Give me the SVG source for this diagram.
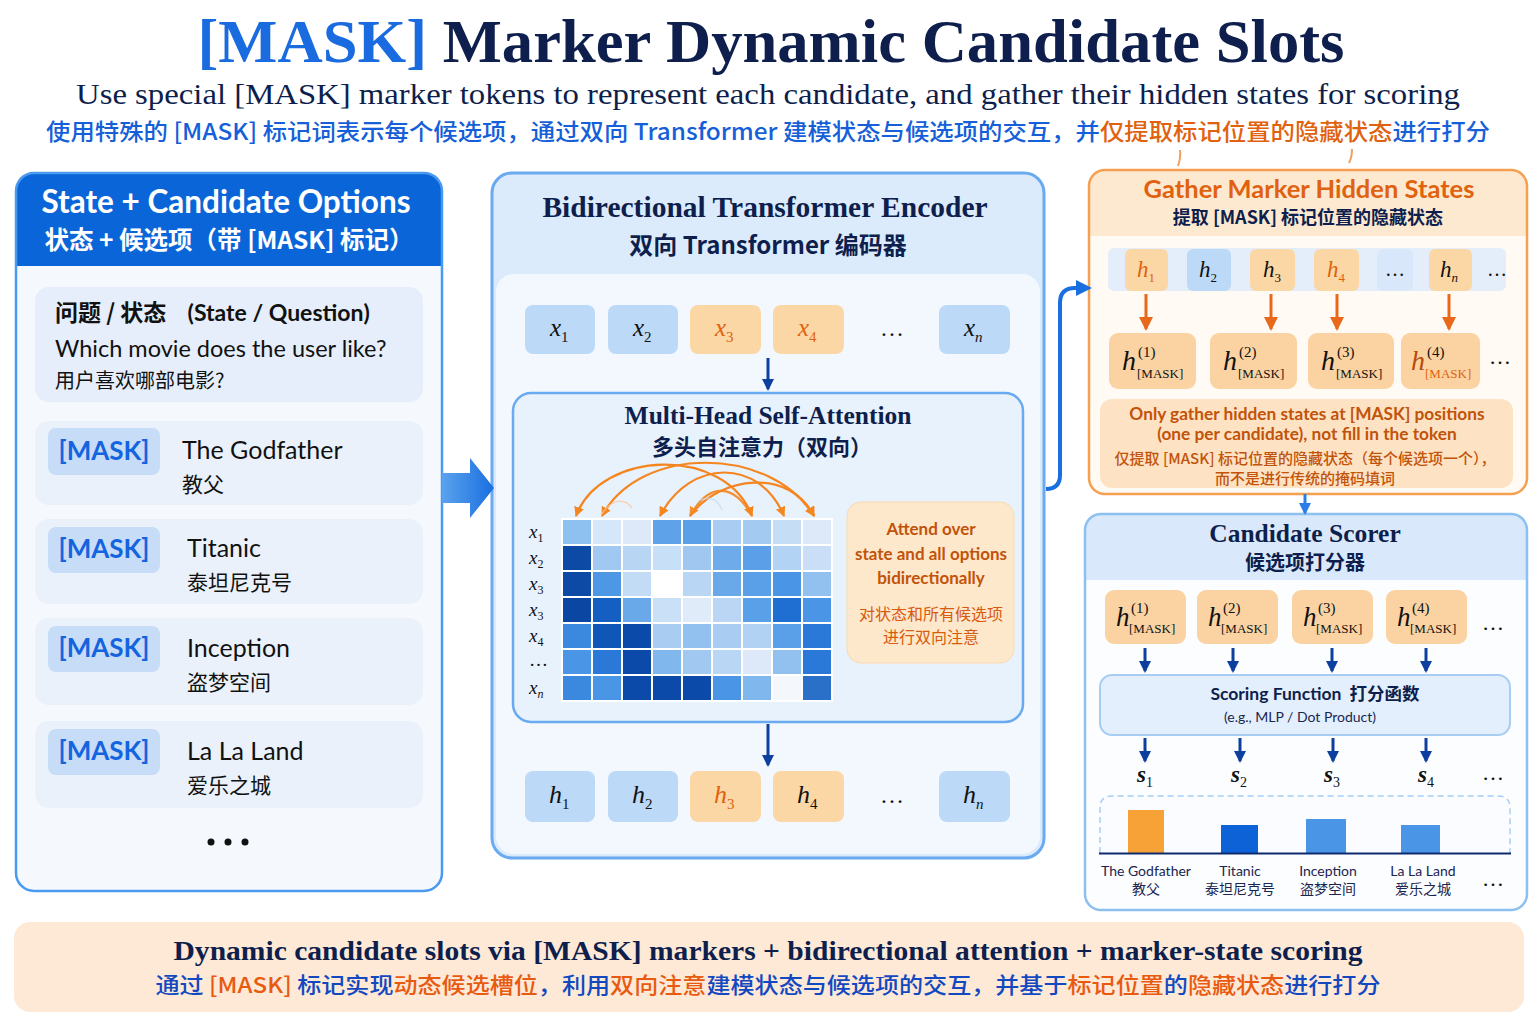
<svg xmlns="http://www.w3.org/2000/svg" width="1536" height="1024" viewBox="0 0 1536 1024">
<defs>
<style>
.serif{font-family:"Liberation Serif","Noto Sans CJK SC",serif}
.sans{font-family:Lato,"Noto Sans","Noto Sans CJK SC",sans-serif}
.cjk{font-family:"Noto Sans CJK SC",sans-serif}
.navy{fill:#0e1f4d}
.blue{fill:#1560d8}
.org{fill:#e0620e}
.brown{fill:#c2530a}
.tokB{fill:#bcd9f7}
.tokO{fill:#fcd7a6}
.mask{fill:#fbd3a2}
.math{font-family:"Liberation Serif",serif;font-style:italic}
.c{text-anchor:middle}
.darrow{stroke:#0d3f9e;stroke-width:3;fill:none}
.oarrow{stroke:#e8691a;stroke-width:3;fill:none}
.arc{stroke:#f5861f;stroke-width:2.2;fill:none}
</style>
<marker id="ah" markerWidth="14" markerHeight="14" refX="10" refY="7" orient="auto" markerUnits="userSpaceOnUse"><path d="M0,1 L12,7 L0,13 Z" fill="#0d3f9e"/></marker>
<marker id="aho" markerWidth="16" markerHeight="16" refX="12" refY="8" orient="auto" markerUnits="userSpaceOnUse"><path d="M0,1 L14,8 L0,15 Z" fill="#e8691a"/></marker>
<marker id="aharc" markerWidth="12" markerHeight="12" refX="9" refY="6" orient="auto-start-reverse" markerUnits="userSpaceOnUse"><path d="M0,1 L10,6 L0,11 Z" fill="#f5861f"/></marker>
<marker id="ahb" markerWidth="18" markerHeight="18" refX="12" refY="9" orient="auto" markerUnits="userSpaceOnUse"><path d="M0,1 L16,9 L0,17 Z" fill="#1a6fe0"/></marker>
<marker id="ahs" markerWidth="14" markerHeight="14" refX="10" refY="7" orient="auto" markerUnits="userSpaceOnUse"><path d="M0,1 L12,7 L0,13 Z" fill="#2a7ee6"/></marker>
<linearGradient id="bigArrow" x1="0" y1="0" x2="1" y2="0"><stop offset="0" stop-color="#5aa2ee"/><stop offset="1" stop-color="#1a6fe0"/></linearGradient>
</defs>
<rect width="1536" height="1024" fill="#ffffff"/>

<!-- Title -->
<g id="title">
<text x="771" y="62" class="serif c" font-size="62" font-weight="bold" textLength="1147" lengthAdjust="spacingAndGlyphs"><tspan fill="#1a6be0">[MASK]</tspan><tspan class="navy"> Marker Dynamic Candidate Slots</tspan></text>
<text x="768" y="104" class="serif c navy" font-size="30" textLength="1384" lengthAdjust="spacingAndGlyphs">Use special [MASK] marker tokens to represent each candidate, and gather their hidden states for scoring</text>
<text x="768" y="140" class="cjk c" font-size="23" font-weight="500" textLength="1444" lengthAdjust="spacingAndGlyphs"><tspan class="blue">使用特殊的 [MASK] 标记词表示每个候选项，通过双向 Transformer 建模状态与候选项的交互，并</tspan><tspan class="org">仅提取标记位置的隐藏状态</tspan><tspan class="blue">进行打分</tspan></text>
<path d="M1178,166 Q1181,158 1180,150 M1349,163 Q1352,157 1352,149" stroke="#f0a060" stroke-width="2" fill="none"/>
</g>

<!-- Left panel -->
<g id="left-panel">
<rect x="16" y="173" width="426" height="718" rx="18" fill="#f5f9fe"/>
<path d="M16,266 V191 Q16,173 34,173 H424 Q442,173 442,191 V266 Z" fill="#0a66d8"/>
<rect x="16" y="173" width="426" height="718" rx="18" fill="none" stroke="#4a9af0" stroke-width="2.5"/>
<text x="226" y="213" class="sans c" font-size="31.5" font-weight="bold" fill="#ffffff">State + Candidate Options</text>
<text x="229" y="249" class="cjk c" font-size="24.5" font-weight="bold" fill="#ffffff">状态 + 候选项（带 [MASK] 标记）</text>
</g>
<g id="state-card">
<rect x="35" y="287" width="388" height="115" rx="14" fill="#e5eefa"/>
<text x="55" y="321" class="cjk" font-size="23" font-weight="bold" fill="#111">问题 / 状态 <tspan class="sans" dx="16">(State / Question)</tspan></text>
<text x="55" y="357" class="sans" font-size="23.5" fill="#111">Which movie does the user like?</text>
<text x="55" y="388" class="cjk" font-size="20" fill="#111">用户喜欢哪部电影?</text>
</g>
<g id="cand-1">
<rect x="35" y="421" width="388" height="84" rx="14" fill="#eaf1fb"/>
<rect x="48" y="428" width="112" height="47" rx="8" fill="#c7dcf7"/>
<text x="104" y="460" class="sans c" font-size="26" font-weight="bold" fill="#1464e0">[MASK]</text>
<text x="182" y="459" class="sans" font-size="25" fill="#111">The Godfather</text>
<text x="182" y="492" class="cjk" font-size="21" fill="#111">教父</text>
</g>
<g id="cand-2">
<rect x="35" y="519" width="388" height="85" rx="14" fill="#eaf1fb"/>
<rect x="48" y="527" width="112" height="46" rx="8" fill="#c7dcf7"/>
<text x="104" y="558" class="sans c" font-size="26" font-weight="bold" fill="#1464e0">[MASK]</text>
<text x="187" y="557" class="sans" font-size="25" fill="#111">Titanic</text>
<text x="187" y="590" class="cjk" font-size="21" fill="#111">泰坦尼克号</text>
</g>
<g id="cand-3">
<rect x="35" y="618" width="388" height="87" rx="14" fill="#eaf1fb"/>
<rect x="48" y="626" width="112" height="46" rx="8" fill="#c7dcf7"/>
<text x="104" y="657" class="sans c" font-size="26" font-weight="bold" fill="#1464e0">[MASK]</text>
<text x="187" y="657" class="sans" font-size="25" fill="#111">Inception</text>
<text x="187" y="690" class="cjk" font-size="21" fill="#111">盗梦空间</text>
</g>
<g id="cand-4">
<rect x="35" y="721" width="388" height="87" rx="14" fill="#eaf1fb"/>
<rect x="48" y="729" width="112" height="46" rx="8" fill="#c7dcf7"/>
<text x="104" y="760" class="sans c" font-size="26" font-weight="bold" fill="#1464e0">[MASK]</text>
<text x="187" y="760" class="sans" font-size="25" fill="#111">La La Land</text>
<text x="187" y="793" class="cjk" font-size="21" fill="#111">爱乐之城</text>
</g>
<g id="left-more" fill="#111"><circle cx="211" cy="842" r="3.5"/><circle cx="228" cy="842" r="3.5"/><circle cx="245" cy="842" r="3.5"/></g>

<!-- Middle panel -->
<g id="encoder">
<rect x="492" y="173" width="552" height="685" rx="20" fill="#dcebfb"/>
<rect x="496" y="274" width="544" height="580" rx="18" fill="#f3f8fe"/>
<rect x="492" y="173" width="552" height="685" rx="20" fill="none" stroke="#6aaaf0" stroke-width="3"/>
<text x="765" y="217" class="serif c navy" font-size="29.5" font-weight="bold">Bidirectional Transformer Encoder</text>
<text x="768" y="254" class="cjk c navy" font-size="24" font-weight="bold">双向 Transformer 编码器</text>
</g>
<g id="input-tokens">
<rect x="525" y="305" width="70" height="49" rx="8" class="tokB"/>
<rect x="608" y="305" width="70" height="49" rx="8" class="tokB"/>
<rect x="690" y="305" width="71" height="49" rx="8" class="tokO"/>
<rect x="773" y="305" width="71" height="49" rx="8" class="tokO"/>
<rect x="939" y="305" width="71" height="49" rx="8" class="tokB"/>
<text x="550" y="336" class="math" font-size="25" fill="#111">x<tspan font-size="15" dy="6" font-style="normal">1</tspan></text>
<text x="633" y="336" class="math" font-size="25" fill="#111">x<tspan font-size="15" dy="6" font-style="normal">2</tspan></text>
<text x="715" y="336" class="math" font-size="25" fill="#e0620e">x<tspan font-size="15" dy="6" font-style="normal">3</tspan></text>
<text x="798" y="336" class="math" font-size="25" fill="#e0620e">x<tspan font-size="15" dy="6" font-style="normal">4</tspan></text>
<text x="892" y="336" class="serif c" font-size="24" fill="#111">…</text>
<text x="964" y="336" class="math" font-size="25" fill="#111">x<tspan font-size="15" dy="6">n</tspan></text>
</g>

<g id="mhsa">
<rect x="513" y="393" width="510" height="329" rx="18" fill="#e8f2fd" stroke="#6aaaf0" stroke-width="2.5"/>
<text x="768" y="424" class="serif c navy" font-size="25.5" font-weight="bold">Multi-Head Self-Attention</text>
<text x="762" y="455" class="cjk c navy" font-size="22" font-weight="bold">多头自注意力（双向）</text>
<g id="matrix" stroke="#ffffff" stroke-width="2">
<rect x="562" y="519" width="30" height="26" fill="#8fc1f0"/><rect x="592" y="519" width="30" height="26" fill="#d6e7f9"/><rect x="622" y="519" width="30" height="26" fill="#dde9f8"/><rect x="652" y="519" width="30" height="26" fill="#5ea3e9"/><rect x="682" y="519" width="30" height="26" fill="#5aa0e8"/><rect x="712" y="519" width="30" height="26" fill="#a9cdf2"/><rect x="742" y="519" width="30" height="26" fill="#a3caf1"/><rect x="772" y="519" width="30" height="26" fill="#c6ddf6"/><rect x="802" y="519" width="30" height="26" fill="#dde9f9"/>
<rect x="562" y="545" width="30" height="26" fill="#0c4aa6"/><rect x="592" y="545" width="30" height="26" fill="#a0c8f0"/><rect x="622" y="545" width="30" height="26" fill="#b8d6f4"/><rect x="652" y="545" width="30" height="26" fill="#c8e0f7"/><rect x="682" y="545" width="30" height="26" fill="#9fc7f0"/><rect x="712" y="545" width="30" height="26" fill="#6eabea"/><rect x="742" y="545" width="30" height="26" fill="#5a9fe8"/><rect x="772" y="545" width="30" height="26" fill="#b3d3f4"/><rect x="802" y="545" width="30" height="26" fill="#cadff7"/>
<rect x="562" y="571" width="30" height="26" fill="#0c4aa6"/><rect x="592" y="571" width="30" height="26" fill="#4d97e5"/><rect x="622" y="571" width="30" height="26" fill="#c2dcf6"/><rect x="652" y="571" width="30" height="26" fill="#ffffff"/><rect x="682" y="571" width="30" height="26" fill="#b9d7f4"/><rect x="712" y="571" width="30" height="26" fill="#6aa9e9"/><rect x="742" y="571" width="30" height="26" fill="#5aa0e8"/><rect x="772" y="571" width="30" height="26" fill="#4a95e5"/><rect x="802" y="571" width="30" height="26" fill="#92c1ef"/>
<rect x="562" y="597" width="30" height="26" fill="#0a46a2"/><rect x="592" y="597" width="30" height="26" fill="#1460c2"/><rect x="622" y="597" width="30" height="26" fill="#6aa9e9"/><rect x="652" y="597" width="30" height="26" fill="#cae0f7"/><rect x="682" y="597" width="30" height="26" fill="#dfebf9"/><rect x="712" y="597" width="30" height="26" fill="#bad6f4"/><rect x="742" y="597" width="30" height="26" fill="#5aa0e8"/><rect x="772" y="597" width="30" height="26" fill="#1f6fd2"/><rect x="802" y="597" width="30" height="26" fill="#4a95e5"/>
<rect x="562" y="623" width="30" height="26" fill="#3b89de"/><rect x="592" y="623" width="30" height="26" fill="#0f56b6"/><rect x="622" y="623" width="30" height="26" fill="#0b4aa8"/><rect x="652" y="623" width="30" height="26" fill="#a9cdf2"/><rect x="682" y="623" width="30" height="26" fill="#92c1ef"/><rect x="712" y="623" width="30" height="26" fill="#a9cdf2"/><rect x="742" y="623" width="30" height="26" fill="#b1d2f3"/><rect x="772" y="623" width="30" height="26" fill="#5aa0e8"/><rect x="802" y="623" width="30" height="26" fill="#2a78d8"/>
<rect x="562" y="649" width="30" height="26" fill="#4a95e5"/><rect x="592" y="649" width="30" height="26" fill="#2a78d8"/><rect x="622" y="649" width="30" height="26" fill="#0b4aa8"/><rect x="652" y="649" width="30" height="26" fill="#80b8ee"/><rect x="682" y="649" width="30" height="26" fill="#a0c8f0"/><rect x="712" y="649" width="30" height="26" fill="#b9d6f4"/><rect x="742" y="649" width="30" height="26" fill="#dde9f8"/><rect x="772" y="649" width="30" height="26" fill="#92c1ef"/><rect x="802" y="649" width="30" height="26" fill="#2a78d8"/>
<rect x="562" y="675" width="30" height="26" fill="#3b89de"/><rect x="592" y="675" width="30" height="26" fill="#4a95e5"/><rect x="622" y="675" width="30" height="26" fill="#0b4aa8"/><rect x="652" y="675" width="30" height="26" fill="#0b4aa8"/><rect x="682" y="675" width="30" height="26" fill="#0b4aa8"/><rect x="712" y="675" width="30" height="26" fill="#4a95e5"/><rect x="742" y="675" width="30" height="26" fill="#80b8ee"/><rect x="772" y="675" width="30" height="26" fill="#f4f8fd"/><rect x="802" y="675" width="30" height="26" fill="#2a70c8"/>
</g>
<g id="row-labels" class="math" font-size="19" fill="#111">
<text x="529" y="538">x<tspan font-size="12" dy="4" font-style="normal">1</tspan></text>
<text x="529" y="564">x<tspan font-size="12" dy="4" font-style="normal">2</tspan></text>
<text x="529" y="590">x<tspan font-size="12" dy="4" font-style="normal">3</tspan></text>
<text x="529" y="616">x<tspan font-size="12" dy="4" font-style="normal">3</tspan></text>
<text x="529" y="642">x<tspan font-size="12" dy="4" font-style="normal">4</tspan></text>
<text x="529" y="666" font-style="normal">…</text>
<text x="529" y="694">x<tspan font-size="12" dy="4">n</tspan></text>
</g>
</g>
<g id="attend-note">
<rect x="847" y="502" width="167" height="161" rx="14" fill="#fde8cc" stroke="#fbd9ae" stroke-width="1"/>
<text x="931" y="535" class="sans c brown" font-size="17" font-weight="bold">Attend over</text>
<text x="931" y="560" class="sans c brown" font-size="17" font-weight="bold">state and all options</text>
<text x="931" y="584" class="sans c brown" font-size="17" font-weight="bold">bidirectionally</text>
<text x="931" y="620" class="cjk c" font-size="16" fill="#d85a0c">对状态和所有候选项</text>
<text x="931" y="643" class="cjk c" font-size="16" fill="#d85a0c">进行双向注意</text>
</g>

<g id="hidden-tokens">
<rect x="525" y="771" width="70" height="51" rx="8" class="tokB"/>
<rect x="608" y="771" width="70" height="51" rx="8" class="tokB"/>
<rect x="690" y="771" width="71" height="51" rx="8" class="tokO"/>
<rect x="773" y="771" width="71" height="51" rx="8" class="tokO"/>
<rect x="939" y="771" width="71" height="51" rx="8" class="tokB"/>
<text x="549" y="803" class="math" font-size="26" fill="#111">h<tspan font-size="15" dy="6" font-style="normal">1</tspan></text>
<text x="632" y="803" class="math" font-size="26" fill="#111">h<tspan font-size="15" dy="6" font-style="normal">2</tspan></text>
<text x="714" y="803" class="math" font-size="26" fill="#e0620e">h<tspan font-size="15" dy="6" font-style="normal">3</tspan></text>
<text x="797" y="803" class="math" font-size="26" fill="#111">h<tspan font-size="15" dy="6" font-style="normal">4</tspan></text>
<text x="892" y="803" class="serif c" font-size="24" fill="#111">…</text>
<text x="963" y="803" class="math" font-size="26" fill="#111">h<tspan font-size="15" dy="6">n</tspan></text>
</g>

<!-- Gather box -->
<g id="gather">
<rect x="1089" y="170" width="438" height="324" rx="16" fill="#fffaf3"/>
<path d="M1089,236 V186 Q1089,170 1105,170 H1511 Q1527,170 1527,186 V236 Z" fill="#fde8d0"/>
<rect x="1089" y="170" width="438" height="324" rx="16" fill="none" stroke="#f5a050" stroke-width="2.5"/>
<text x="1309" y="198" class="sans c org" font-size="25.5" font-weight="bold">Gather Marker Hidden States</text>
<text x="1308" y="224" class="cjk c navy" font-size="18" font-weight="bold">提取 [MASK] 标记位置的隐藏状态</text>
<rect x="1108" y="248" width="398" height="43" rx="6" fill="#e4eefa"/>
<rect x="1125" y="249" width="43" height="42" rx="6" class="tokO"/>
<rect x="1187" y="249" width="44" height="42" rx="6" class="tokB"/>
<rect x="1250" y="249" width="45" height="42" rx="6" class="tokO"/>
<rect x="1314" y="249" width="45" height="42" rx="6" class="tokO"/>
<rect x="1377" y="249" width="36" height="42" rx="6" fill="#d8e7f9"/>
<rect x="1429" y="249" width="43" height="42" rx="6" class="tokO"/>
<text x="1137" y="277" class="math" font-size="23" fill="#e0620e">h<tspan font-size="13" dy="5" font-style="normal">1</tspan></text>
<text x="1199" y="277" class="math" font-size="23" fill="#111">h<tspan font-size="13" dy="5" font-style="normal">2</tspan></text>
<text x="1263" y="277" class="math" font-size="23" fill="#111">h<tspan font-size="13" dy="5" font-style="normal">3</tspan></text>
<text x="1327" y="277" class="math" font-size="23" fill="#e0620e">h<tspan font-size="13" dy="5" font-style="normal">4</tspan></text>
<text x="1395" y="276" class="serif c" font-size="20" fill="#111">…</text>
<text x="1440" y="277" class="math" font-size="23" fill="#111">h<tspan font-size="13" dy="5">n</tspan></text>
<text x="1497" y="276" class="serif c" font-size="20" fill="#111">…</text>

<rect x="1109" y="333" width="87" height="56" rx="9" class="mask"/>
<rect x="1210" y="333" width="87" height="56" rx="9" class="mask"/>
<rect x="1308" y="333" width="86" height="56" rx="9" class="mask"/>
<rect x="1401" y="333" width="79" height="56" rx="9" class="mask"/>
<g class="math" fill="#111">
<text x="1122" y="370" font-size="28">h</text><text x="1138" y="357" font-size="15" font-style="normal">(1)</text><text x="1137" y="378" font-size="13" font-style="normal">[MASK]</text>
<text x="1223" y="370" font-size="28">h</text><text x="1239" y="357" font-size="15" font-style="normal">(2)</text><text x="1238" y="378" font-size="13" font-style="normal">[MASK]</text>
<text x="1321" y="370" font-size="28">h</text><text x="1337" y="357" font-size="15" font-style="normal">(3)</text><text x="1336" y="378" font-size="13" font-style="normal">[MASK]</text>
<text x="1411" y="370" font-size="28" fill="#b84a0a">h</text><text x="1427" y="357" font-size="15" font-style="normal">(4)</text><text x="1425" y="378" font-size="13" font-style="normal" fill="#e0620e">[MASK]</text>
</g>
<text x="1500" y="364" class="serif c" font-size="22" fill="#111">…</text>

<rect x="1100" y="399" width="413" height="89" rx="12" fill="#fde3c4"/>
<text x="1307" y="420" class="sans c brown" font-size="17.3" font-weight="bold">Only gather hidden states at [MASK] positions</text>
<text x="1307" y="440" class="sans c brown" font-size="17.3" font-weight="bold">(one per candidate), not fill in the token</text>
<text x="1305" y="464" class="cjk c brown" font-size="15" font-weight="500">仅提取 [MASK] 标记位置的隐藏状态（每个候选项一个），</text>
<text x="1305" y="484" class="cjk c brown" font-size="15" font-weight="500">而不是进行传统的掩码填词</text>
</g>

<!-- Candidate Scorer -->
<g id="scorer">
<rect x="1085" y="514" width="442" height="396" rx="16" fill="#fbfdff"/>
<path d="M1085,580 V530 Q1085,514 1101,514 H1511 Q1527,514 1527,530 V580 Z" fill="#d9e9fb"/>
<rect x="1085" y="514" width="442" height="396" rx="16" fill="none" stroke="#8cc0f0" stroke-width="2.5"/>
<text x="1305" y="542" class="serif c navy" font-size="25.5" font-weight="bold">Candidate Scorer</text>
<text x="1305" y="570" class="cjk c navy" font-size="20" font-weight="bold">候选项打分器</text>
<rect x="1105" y="590" width="81" height="54" rx="9" class="mask"/>
<rect x="1197" y="590" width="81" height="54" rx="9" class="mask"/>
<rect x="1292" y="590" width="81" height="54" rx="9" class="mask"/>
<rect x="1386" y="590" width="81" height="54" rx="9" class="mask"/>
<g class="math" fill="#111">
<text x="1116" y="626" font-size="27">h</text><text x="1131" y="613" font-size="15" font-style="normal">(1)</text><text x="1129" y="633" font-size="13" font-style="normal">[MASK]</text>
<text x="1208" y="626" font-size="27">h</text><text x="1223" y="613" font-size="15" font-style="normal">(2)</text><text x="1221" y="633" font-size="13" font-style="normal">[MASK]</text>
<text x="1303" y="626" font-size="27">h</text><text x="1318" y="613" font-size="15" font-style="normal">(3)</text><text x="1316" y="633" font-size="13" font-style="normal">[MASK]</text>
<text x="1397" y="626" font-size="27">h</text><text x="1412" y="613" font-size="15" font-style="normal">(4)</text><text x="1410" y="633" font-size="13" font-style="normal">[MASK]</text>
</g>
<text x="1493" y="630" class="serif c" font-size="22" fill="#111">…</text>
<rect x="1100" y="675" width="410" height="60" rx="12" fill="#e3effc" stroke="#a8cdf2" stroke-width="2"/>
<text x="1315" y="700" class="sans c navy" font-size="17.5" font-weight="bold">Scoring Function <tspan class="cjk" dx="4">打分函数</tspan></text>
<text x="1300" y="722" class="sans c" font-size="14" fill="#1a2550">(e.g., MLP / Dot Product)</text>
<g class="math" font-size="23" fill="#111" font-weight="bold">
<text x="1137" y="782">s<tspan font-size="14" dy="5" font-style="normal" font-weight="normal">1</tspan></text>
<text x="1231" y="782">s<tspan font-size="14" dy="5" font-style="normal" font-weight="normal">2</tspan></text>
<text x="1324" y="782">s<tspan font-size="14" dy="5" font-style="normal" font-weight="normal">3</tspan></text>
<text x="1418" y="782">s<tspan font-size="14" dy="5" font-style="normal" font-weight="normal">4</tspan></text>
</g>
<text x="1493" y="780" class="serif c" font-size="22" fill="#111">…</text>
<path d="M1100,853 V808 Q1100,796 1112,796 H1498 Q1510,796 1510,808 V853" fill="#fafcff" stroke="#a8cdf2" stroke-width="1.5" stroke-dasharray="6 4"/>
<rect x="1128" y="810" width="36" height="43" fill="#f7a236"/>
<rect x="1221" y="825" width="37" height="28" fill="#0d62d8"/>
<rect x="1306" y="819" width="40" height="34" fill="#4a95e5"/>
<rect x="1401" y="825" width="39" height="28" fill="#4a95e5"/>
<line x1="1099" y1="853.5" x2="1511" y2="853.5" stroke="#0e2a6e" stroke-width="2"/>
<g class="sans c" font-size="14" fill="#1a2550">
<text x="1146" y="876">The Godfather</text><text x="1146" y="894" class="cjk">教父</text>
<text x="1240" y="876">Titanic</text><text x="1240" y="894" class="cjk">泰坦尼克号</text>
<text x="1328" y="876">Inception</text><text x="1328" y="894" class="cjk">盗梦空间</text>
<text x="1423" y="876">La La Land</text><text x="1423" y="894" class="cjk">爱乐之城</text>
</g>
<text x="1493" y="886" class="serif c" font-size="22" fill="#111">…</text>
</g>

<!-- Bottom banner -->
<g id="banner">
<rect x="14" y="922" width="1510" height="90" rx="16" fill="#fde9d6"/>
<text x="768" y="960" class="serif c navy" font-size="28" font-weight="bold" textLength="1189" lengthAdjust="spacingAndGlyphs">Dynamic candidate slots via [MASK] markers + bidirectional attention + marker-state scoring</text>
<text x="768" y="993" class="cjk c" font-size="22" font-weight="500" textLength="1225" lengthAdjust="spacingAndGlyphs"><tspan fill="#1248c0">通过 </tspan><tspan fill="#e85a10">[MASK]</tspan><tspan fill="#1248c0"> 标记实现</tspan><tspan fill="#e85a10">动态候选槽位</tspan><tspan fill="#1248c0">，利用</tspan><tspan fill="#e85a10">双向注意</tspan><tspan fill="#1248c0">建模状态与候选项的交互，并基于</tspan><tspan fill="#e85a10">标记位置</tspan><tspan fill="#1248c0">的</tspan><tspan fill="#e85a10">隐藏状态</tspan><tspan fill="#1248c0">进行打分</tspan></text>
</g>

<!-- Connectors -->
<g id="connectors">
<path d="M442,473 H470 V458 L494,488 L470,518 V503 H442 Z" fill="url(#bigArrow)"/>
<line x1="768" y1="358" x2="768" y2="389" class="darrow" marker-end="url(#ah)"/>
<line x1="768" y1="724" x2="768" y2="765" class="darrow" marker-end="url(#ah)"/>
<path d="M1046,489 Q1060,489 1060,475 V303 Q1060,288 1075,288 H1088" stroke="#1a6fe0" stroke-width="4" fill="none" marker-end="url(#ahb)"/>
<line x1="1146" y1="294" x2="1146" y2="329" class="oarrow" marker-end="url(#aho)"/>
<line x1="1271" y1="294" x2="1271" y2="329" class="oarrow" marker-end="url(#aho)"/>
<line x1="1337" y1="294" x2="1337" y2="329" class="oarrow" marker-end="url(#aho)"/>
<line x1="1449" y1="294" x2="1449" y2="329" class="oarrow" marker-end="url(#aho)"/>
<line x1="1305" y1="494" x2="1305" y2="513" stroke="#2a7ee6" stroke-width="3" marker-end="url(#ahs)"/>
<line x1="1145" y1="648" x2="1145" y2="671" class="darrow" marker-end="url(#ah)"/>
<line x1="1233" y1="648" x2="1233" y2="671" class="darrow" marker-end="url(#ah)"/>
<line x1="1332" y1="648" x2="1332" y2="671" class="darrow" marker-end="url(#ah)"/>
<line x1="1426" y1="648" x2="1426" y2="671" class="darrow" marker-end="url(#ah)"/>
<line x1="1145" y1="738" x2="1145" y2="761" class="darrow" marker-end="url(#ah)"/>
<line x1="1240" y1="738" x2="1240" y2="761" class="darrow" marker-end="url(#ah)"/>
<line x1="1333" y1="738" x2="1333" y2="761" class="darrow" marker-end="url(#ah)"/>
<line x1="1426" y1="738" x2="1426" y2="761" class="darrow" marker-end="url(#ah)"/>
<g id="attention-arcs">
<path d="M576,516 C600,450 725,445 752,516" class="arc" marker-start="url(#aharc)" marker-end="url(#aharc)"/>
<path d="M602,516 C640,445 770,445 814,516" class="arc" marker-start="url(#aharc)" marker-end="url(#aharc)"/>
<path d="M660,516 C690,458 760,458 784,516" class="arc" marker-start="url(#aharc)" marker-end="url(#aharc)"/>
<path d="M690,516 C720,475 790,468 814,516" class="arc" marker-end="url(#aharc)"/>
<path d="M752,516 C735,485 710,480 690,516" class="arc" marker-end="url(#aharc)" opacity="0.9"/>
<path d="M601,515 C612,498 625,498 632,508" stroke="#f8c79a" stroke-width="1.5" fill="none" opacity="0.7"/>
<path d="M700,500 C712,496 718,500 722,510" stroke="#c8dcf3" stroke-width="1.5" fill="none" opacity="0.7"/>
</g>
</g>
</svg>
